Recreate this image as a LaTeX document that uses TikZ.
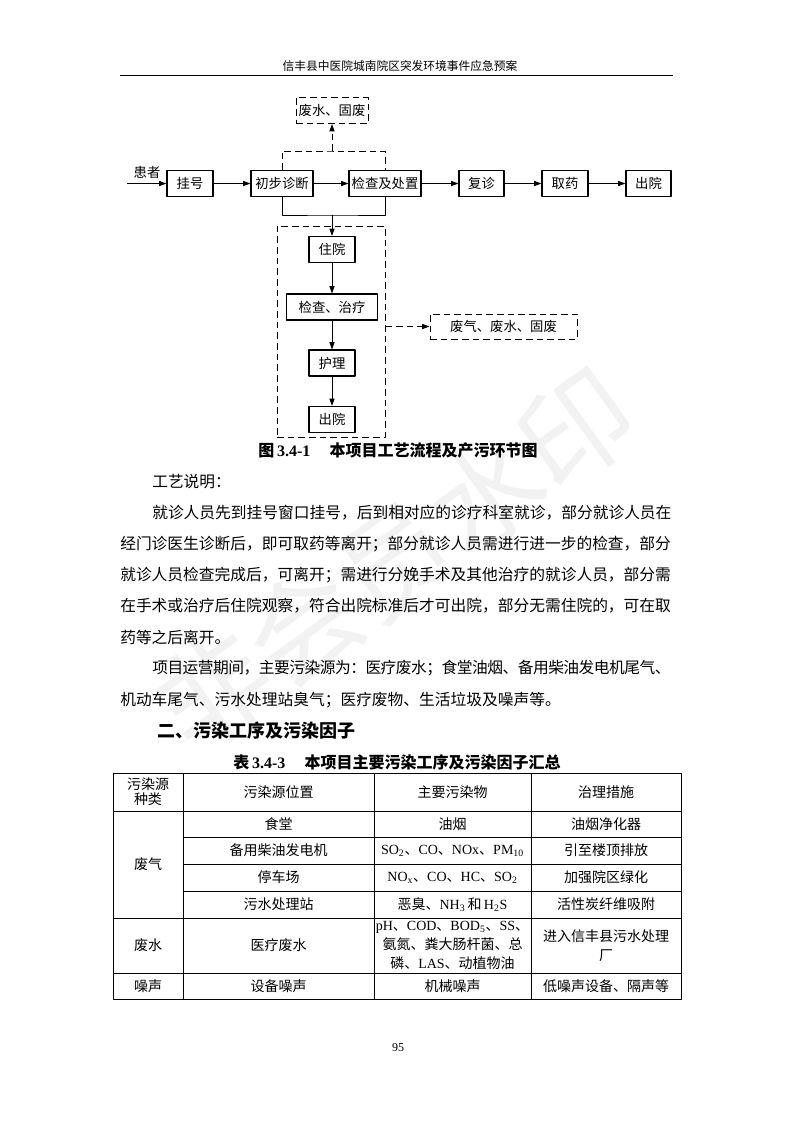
\documentclass[tikz,border=0pt]{standalone}
\usepackage{fontspec}
\setmainfont{Liberation Serif}
\newfontfamily\cjk{Noto Sans CJK SC}
\newfontfamily\cjktight[LetterSpace=-3.2]{Noto Sans CJK SC}
\newcommand\lat[1]{{\rmfamily #1}}
\usetikzlibrary{calc, positioning}
\usetikzlibrary{arrows.meta}

\begin{document}
\begin{tikzpicture}[x=0.75pt, y=-0.75pt, line join=round,
  flowbox/.style={draw, line width=0.8pt, inner sep=0pt, minimum height=26*\pxunit,
    font=\cjk\fontsize{10}{12}\selectfont},
  wastebox/.style={flowbox, line width=0.7pt, dash pattern=on 5pt off 3pt},
  flowarr/.style={line width=0.7pt, -{Triangle[length=5.5pt, width=3.8pt]}},
  dasharr/.style={flowarr, dash pattern=on 5pt off 3pt},
  dashline/.style={line width=0.7pt, dash pattern=on 5pt off 3pt},
  bodyline/.style={anchor=west, inner sep=0pt, font=\cjk\fontsize{11.8}{14}\selectfont},
  caption/.style={inner sep=0pt, font=\bfseries\fontsize{12}{14}\selectfont},
  cell/.style={inner sep=0pt, align=center, font=\cjk\fontsize{10.5}{11.2}\selectfont},
  tabline/.style={line width=0.7pt}]
\def\pxunit{0.75pt}
\useasboundingbox (0,0) rectangle (793,1122);

% Faint watermark behind the page
\node[inner sep=0pt, rotate=36, text=black!5, font=\cjk\fontsize{84}{84}\selectfont] (mark) at (395,560) {非会员水印};

% Running head
\node[inner sep=0pt, font=\cjk\fontsize{8.8}{10}\selectfont] (head) at (400,66) {信丰县中医院城南院区突发环境事件应急预案};
\draw[line width=0.7pt] (120,75) -- (673,75);

% Main row of the flow chart
\node[flowbox, minimum width=46*\pxunit] (reg) at (190,183.5) {挂号};
\node[flowbox, minimum width=62*\pxunit] (diag) at (282,183.5) {初步诊断};
\node[flowbox, minimum width=72*\pxunit] (exam) at (385,183.5) {检查及处置};
\node[flowbox, minimum width=45*\pxunit] (revisit) at (481.5,183.5) {复诊};
\node[flowbox, minimum width=46*\pxunit] (drug) at (565,183.5) {取药};
\node[flowbox, minimum width=45*\pxunit] (leave) at (648.5,183.5) {出院};
\coordinate (entry) at (127,183.5);
\node[inner sep=0pt, font=\cjk\fontsize{10}{12}\selectfont] (patient) at (147,172.5) {患者};

\draw[flowarr] (entry) -- (reg);
\draw[flowarr] (reg) -- (diag);
\draw[flowarr] (diag) -- (exam);
\draw[flowarr] (exam) -- (revisit);
\draw[flowarr] (revisit) -- (drug);
\draw[flowarr] (drug) -- (leave);

% Waste from the outpatient steps
\node[wastebox, minimum width=72*\pxunit] (wasteTop) at (332,110.5) {废水、固废};
\coordinate (topMid) at (332,151);
\draw[dashline] (diag.north) |- (topMid) -| (exam.north);
\draw[dasharr] (topMid) -- (wasteTop);

% Inpatient branch
\coordinate (lowMid) at (332,215);
\draw[line width=0.7pt] (diag.south) |- (lowMid) -| (exam.south);
\node[draw, dash pattern=on 5pt off 3pt, line width=0.7pt, inner sep=0pt,
  minimum width=108*\pxunit, minimum height=211*\pxunit] (ward) at (331,331.5) {};
\node[flowbox, minimum width=46*\pxunit] (inpat) at (332,249.5) {住院};
\node[flowbox, minimum width=91*\pxunit] (treat) at (332,307) {检查、治疗};
\node[flowbox, minimum width=46*\pxunit] (nurse) at (332,363) {护理};
\node[flowbox, minimum width=46*\pxunit] (out) at (332,419.5) {出院};
\draw[flowarr] (lowMid) -- (inpat);
\draw[flowarr] (inpat) -- (treat);
\draw[flowarr] (treat) -- (nurse);
\draw[flowarr] (nurse) -- (out);

\node[wastebox, minimum width=147*\pxunit, minimum height=25*\pxunit] (wasteSide) at (503.5,326.5) {废气、废水、固废};
\draw[dasharr] (wasteSide.west -| ward.east) -- (wasteSide.west);

\node[caption] (figcap) at (398,450) {{\cjk 图}\,3.4-1\hspace{1.2em}{\cjk 本项目工艺流程及产污环节图}};

% Process description
\node[bodyline] (txt0) at (152,482) {工艺说明：};
\node[bodyline] (txt1) at (152,513) {就诊人员先到挂号窗口挂号，后到相对应的诊疗科室就诊，部分就诊人员在};
\node[bodyline] (txt2) at (120,544) {经门诊医生诊断后，即可取药等离开；部分就诊人员需进行进一步的检查，部分};
\node[bodyline] (txt3) at (120,575) {就诊人员检查完成后，可离开；需进行分娩手术及其他治疗的就诊人员，部分需};
\node[bodyline] (txt4) at (120,606) {在手术或治疗后住院观察，符合出院标准后才可出院，部分无需住院的，可在取};
\node[bodyline] (txt5) at (120,637) {药等之后离开。};
\node[bodyline, font=\cjktight\fontsize{11.8}{14}\selectfont] (txt6) at (152,668) {项目运营期间，主要污染源为：医疗废水；食堂油烟、备用柴油发电机尾气、};
\node[bodyline] (txt7) at (120,700) {机动车尾气、污水处理站臭气；医疗废物、生活垃圾及噪声等。};

\node[anchor=west, inner sep=0pt, font=\cjk\bfseries\fontsize{13.5}{15}\selectfont] (sect) at (157,731) {二、污染工序及污染因子};
\node[caption] (tabcap) at (397,762) {{\cjk 表}\,3.4-3\hspace{1.2em}{\cjk 本项目主要污染工序及污染因子汇总}};

% Table grid
\draw[tabline] (113,773) rectangle (681,999);
\draw[tabline] (183,773) -- (183,999);
\draw[tabline] (374,773) -- (374,999);
\draw[tabline] (531,773) -- (531,999);
\draw[tabline] (113,811) -- (681,811);
\draw[tabline] (183,837) -- (681,837);
\draw[tabline] (183,864) -- (681,864);
\draw[tabline] (183,891) -- (681,891);
\draw[tabline] (113,918) -- (681,918);
\draw[tabline] (113,973) -- (681,973);

% Table cells
\node[cell] (hType) at (148,792) {污染源\\种类};
\node[cell] (hPlace) at (278.5,792) {污染源位置};
\node[cell] (hAgent) at (452.5,792) {主要污染物};
\node[cell] (hMeasure) at (606,792) {治理措施};

\node[cell] (gas) at (148,864.5) {废气};
\node[cell] (gasA) at (278.5,824) {食堂};
\node[cell] (gasAagent) at (452.5,824) {油烟};
\node[cell] (gasAmeasure) at (606,824) {油烟净化器};
\node[cell] (gasB) at (278.5,850.5) {备用柴油发电机};
\node[cell] (gasBagent) at (452.5,850.5) {\lat{SO\textsubscript{2}}、\lat{CO}、\lat{NOx}、\lat{PM\textsubscript{10}}};
\node[cell] (gasBmeasure) at (606,850.5) {引至楼顶排放};
\node[cell] (gasC) at (278.5,877.5) {停车场};
\node[cell] (gasCagent) at (452.5,877.5) {\lat{NO\textsubscript{x}}、\lat{CO}、\lat{HC}、\lat{SO\textsubscript{2}}};
\node[cell] (gasCmeasure) at (606,877.5) {加强院区绿化};
\node[cell] (gasD) at (278.5,904.5) {污水处理站};
\node[cell] (gasDagent) at (452.5,904.5) {恶臭、\lat{NH\textsubscript{3}}\,和\,\lat{H\textsubscript{2}S}};
\node[cell] (gasDmeasure) at (606,904.5) {活性炭纤维吸附};

\node[cell] (water) at (148,945.5) {废水};
\node[cell] (waterA) at (278.5,945.5) {医疗废水};
\node[cell, font=\cjk\fontsize{10.5}{14.5}\selectfont] (waterAagent) at (452.5,945.5) {\lat{pH}、\lat{COD}、\lat{BOD\textsubscript{5}}、\lat{SS}、\\氨氮、粪大肠杆菌、总\\磷、\lat{LAS}、动植物油};
\node[cell, font=\cjk\fontsize{10.5}{14.5}\selectfont] (waterAmeasure) at (606,945.5) {进入信丰县污水处理\\厂};

\node[cell] (noise) at (148,986) {噪声};
\node[cell] (noiseA) at (278.5,986) {设备噪声};
\node[cell] (noiseAagent) at (452.5,986) {机械噪声};
\node[cell] (noiseAmeasure) at (606,986) {低噪声设备、隔声等};

% Page number
\node[inner sep=0pt, font=\fontsize{9}{10}\selectfont] (page) at (398,1048) {95};
\end{tikzpicture}
\end{document}
